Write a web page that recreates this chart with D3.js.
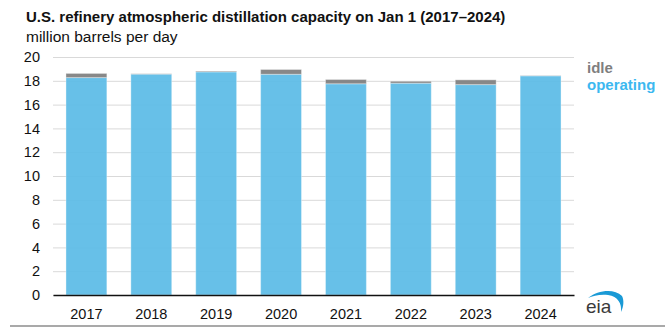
<!DOCTYPE html>
<html>
<head>
<meta charset="utf-8">
<script src="https://cdn.jsdelivr.net/npm/d3@7"></script>
<style>
  html, body { margin: 0; padding: 0; background: #fff; }
  svg { display: block; font-family: "Liberation Sans", Arial, sans-serif; }
</style>
</head>
<body>
<svg id="chart" width="665" height="327"></svg>
<script>
// Capacity on January 1, million barrels per day
const years = ["2017", "2018", "2019", "2020", "2021", "2022", "2023", "2024"];
const operating = [18.27, 18.56, 18.75, 18.55, 17.75, 17.80, 17.68, 18.42];
const idle = [0.35, 0.03, 0.06, 0.40, 0.36, 0.16, 0.40, 0.02];
const yTicks = [0, 2, 4, 6, 8, 10, 12, 14, 16, 18, 20];

const seriesKeys = ["operating", "idle"];
const seriesColors = { operating: "#5bbbe6", idle: "#7f7f7f" };
const rows = years.map((y, i) => ({ year: y, operating: operating[i], idle: idle[i] }));

const svg = d3.select("#chart");
const m = { left: 53, right: 91, top: 57, bottom: 32 };
const W = 665, H = 327;

const x = d3.scaleBand()
  .domain(years)
  .range([m.left, W - m.right])
  .paddingInner(0.37)
  .paddingOuter(0.2);

const y = d3.scaleLinear()
  .domain([0, 20])
  .range([H - m.bottom, m.top]);

// Title and unit line
svg.append("text")
  .attr("x", 26).attr("y", 22)
  .attr("font-size", 15).attr("font-weight", "bold").attr("fill", "#111")
  .text("U.S. refinery atmospheric distillation capacity on Jan 1 (2017\u20132024)");
svg.append("text")
  .attr("x", 26).attr("y", 42)
  .attr("font-size", 15.5).attr("fill", "#111")
  .text("million barrels per day");

// Y axis with gridlines
const yAxis = svg.append("g")
  .attr("transform", `translate(${m.left},0)`)
  .call(d3.axisLeft(y).tickValues(yTicks).tickSize(-(W - m.right - m.left)).tickPadding(13));
yAxis.select(".domain").remove();
yAxis.selectAll(".tick line").attr("stroke", "#d9d9d9").attr("stroke-width", 1);
yAxis.selectAll(".tick text")
  .attr("font-size", 14.5).attr("fill", "#111")
  .attr("font-family", "Liberation Sans, Arial, sans-serif");

// Stacked bars
const stack = d3.stack().keys(seriesKeys)(rows);
svg.append("g")
  .selectAll("g")
  .data(stack)
  .join("g")
  .attr("fill", d => seriesColors[d.key])
  .selectAll("rect")
  .data(d => d)
  .join("rect")
  .attr("x", d => x(d.data.year))
  .attr("width", x.bandwidth())
  .attr("y", d => y(d[1]))
  .attr("height", d => y(d[0]) - y(d[1]))
  .attr("fill-opacity", 0.93)
  .attr("stroke", "#ffffff")
  .attr("stroke-opacity", 0.35)
  .attr("stroke-width", 1);

// X axis
const xAxis = svg.append("g")
  .attr("transform", `translate(0,${y(0)})`)
  .call(d3.axisBottom(x).tickSize(0).tickPadding(14));
xAxis.select(".domain").attr("stroke", "#111").attr("stroke-width", 1.5);
xAxis.selectAll(".tick text")
  .attr("font-size", 14.5).attr("fill", "#111")
  .attr("font-family", "Liberation Sans, Arial, sans-serif");

// Legend
const legend = [
  { label: "idle", color: "#7f7f7f", y: 73 },
  { label: "operating", color: "#3cb8f0", y: 90 }
];
svg.append("g").selectAll("text")
  .data(legend)
  .join("text")
  .attr("x", 587).attr("y", d => d.y)
  .attr("font-size", 15).attr("font-weight", "bold")
  .attr("fill", d => d.color)
  .text(d => d.label);

// Footer rule
svg.append("line")
  .attr("x1", 10).attr("x2", W).attr("y1", 326).attr("y2", 326)
  .attr("stroke", "#8c8c8c").attr("stroke-width", 1.5);

// eia logo
const logo = svg.append("g").attr("transform", "translate(586,292)");
logo.append("path")
  .attr("d", "M2,6 C12,-2 28,-4 36,4 C38,8 38,14 35,20 C36,12 32,4 22,3 C14,2 7,4 2,6 Z")
  .attr("fill", "#1a9ad6");
logo.append("text")
  .attr("x", 0).attr("y", 21)
  .attr("font-size", 19).attr("font-family", "Liberation Sans, Arial, sans-serif")
  .attr("fill", "#3a3a3a")
  .text("eia");
</script>
</body>
</html>
